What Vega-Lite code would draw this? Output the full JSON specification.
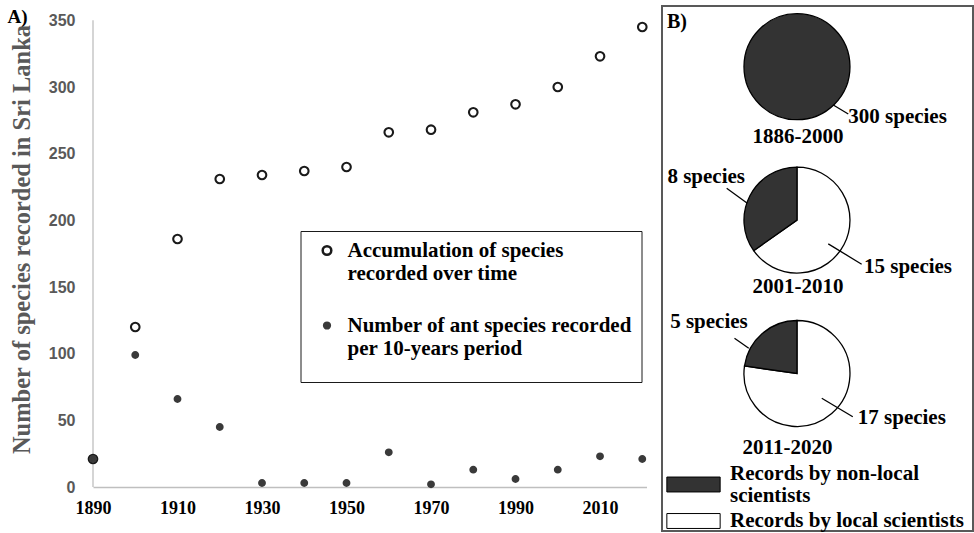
{
  "$schema": "https://vega.github.io/schema/vega-lite/v6.json",
  "autosize": {"type": "pad"},
  "padding": {"left": 7, "top": 5, "right": 1, "bottom": 1},
  "background": "#ffffff",
  "spacing": 10,
  "config": {"view": {"stroke": null}, "font": "Liberation Serif"},
  "resolve": {
    "scale": {"fill": "independent", "stroke": "independent", "size": "independent", "shape": "independent", "x": "independent", "y": "independent"},
    "legend": {"fill": "independent", "stroke": "independent", "size": "independent", "shape": "independent"}
  },
  "hconcat": [
    {
      "width": 553.5,
      "height": 481,
      "layer": [
        {
          "data": {"values": [{}]},
          "mark": {"type": "rule", "color": "#bfbfbf", "strokeWidth": 1.3},
          "encoding": {
            "x": {"datum": 1890, "type": "quantitative", "scale": {"domain": [1890, 2021], "nice": false, "zero": false}},
            "y": {"datum": 0, "type": "quantitative", "scale": {"domain": [0, 360.75], "nice": false}},
            "y2": {"datum": 350}
          }
        },
        {
          "data": {"values": [
            {"year": 1890, "series": "acc", "count": 21},
            {"year": 1900, "series": "acc", "count": 120},
            {"year": 1910, "series": "acc", "count": 186},
            {"year": 1920, "series": "acc", "count": 231},
            {"year": 1930, "series": "acc", "count": 234},
            {"year": 1940, "series": "acc", "count": 237},
            {"year": 1950, "series": "acc", "count": 240},
            {"year": 1960, "series": "acc", "count": 266},
            {"year": 1970, "series": "acc", "count": 268},
            {"year": 1980, "series": "acc", "count": 281},
            {"year": 1990, "series": "acc", "count": 287},
            {"year": 2000, "series": "acc", "count": 300},
            {"year": 2010, "series": "acc", "count": 323},
            {"year": 2020, "series": "acc", "count": 345},
            {"year": 1890, "series": "num", "count": 21},
            {"year": 1900, "series": "num", "count": 99},
            {"year": 1910, "series": "num", "count": 66},
            {"year": 1920, "series": "num", "count": 45},
            {"year": 1930, "series": "num", "count": 3},
            {"year": 1940, "series": "num", "count": 3},
            {"year": 1950, "series": "num", "count": 3},
            {"year": 1960, "series": "num", "count": 26},
            {"year": 1970, "series": "num", "count": 2},
            {"year": 1980, "series": "num", "count": 13},
            {"year": 1990, "series": "num", "count": 6},
            {"year": 2000, "series": "num", "count": 13},
            {"year": 2010, "series": "num", "count": 23},
            {"year": 2020, "series": "num", "count": 21}
          ]},
          "mark": {"type": "point", "shape": "circle", "filled": true, "strokeWidth": 2.1, "opacity": 1},
          "encoding": {
            "x": {
              "field": "year", "type": "quantitative",
              "scale": {"domain": [1890, 2021], "nice": false, "zero": false},
              "axis": {
                "title": null, "values": [1890, 1910, 1930, 1950, 1970, 1990, 2010], "format": "d",
                "grid": false, "ticks": false, "domainColor": "#bfbfbf", "domainWidth": 1.3,
                "labelFont": "Liberation Serif", "labelFontWeight": "bold", "labelFontSize": 18,
                "labelColor": "#000000", "labelPadding": 12, "labelFlush": false, "labelOverlap": false
              }
            },
            "y": {
              "field": "count", "type": "quantitative",
              "scale": {"domain": [0, 360.75], "nice": false},
              "axis": {
                "title": "Number of species recorded in Sri Lanka",
                "values": [0, 50, 100, 150, 200, 250, 300, 350],
                "grid": false, "ticks": false, "domain": false,
                "labelFont": "Liberation Sans", "labelFontWeight": "bold", "labelFontSize": 16,
                "labelColor": "#595959", "labelPadding": 18,
                "titleFont": "Liberation Serif", "titleFontSize": 24.5, "titleFontWeight": "bold",
                "titleColor": "#595959", "titlePadding": 14, "titleY": 233
              }
            },
            "fill": {
              "field": "series", "type": "nominal",
              "scale": {"domain": ["acc", "num"], "range": ["#ffffff", "#3a3a3a"]},
              "legend": {
                "orient": "none", "legendX": 207.5, "legendY": 225, "title": " ",
                "titleOrient": "bottom", "titleFontSize": 10, "titlePadding": 4,
                "padding": 9, "strokeColor": "#1a1a1a",
                "labelFont": "Liberation Serif", "labelFontSize": 21, "labelFontWeight": "bold",
                "labelColor": "#000000", "labelLimit": 500, "labelOffset": 10, "rowPadding": 30,
                "symbolOffset": 7,
                "symbolStrokeWidth": 2.5,
                "labelExpr": "datum.value == 'acc' ? ['Accumulation of species', 'recorded over time'] : ['Number of ant species recorded', 'per 10-years period']",
                "encode": {
                  "labels": {"update": {"lineHeight": {"value": 23}}},
                  "symbols": {"update": {"size": {"signal": "datum.value == 'acc' ? 117 : 75"}}}
                }
              }
            },
            "stroke": {
              "field": "series", "type": "nominal",
              "scale": {"domain": ["acc", "num"], "range": ["#1a1a1a", "#3a3a3a"]}
            },
            "size": {
              "field": "series", "type": "ordinal",
              "scale": {"domain": ["acc", "num"], "range": [74, 33]}
            }
          }
        },
        {
          "data": {"values": [{}]},
          "mark": {"type": "text", "text": "A)", "align": "left", "baseline": "middle", "dx": -85.5, "dy": -3, "font": "Liberation Serif", "fontSize": 19, "fontWeight": "bold", "color": "#000000"},
          "encoding": {
            "x": {"datum": 1890, "type": "quantitative", "scale": {"domain": [1890, 2021], "nice": false, "zero": false}},
            "y": {"datum": 350, "type": "quantitative", "scale": {"domain": [0, 360.75], "nice": false}}
          }
        }
      ]
    },
    {
      "width": 311,
      "height": 525,
      "view": {"stroke": "#595959", "strokeWidth": 2},
      "data": {"values": [
        {"period": "1886-2000", "source": "non-local", "n": 300},
        {"period": "2001-2010", "source": "local", "n": 15},
        {"period": "2001-2010", "source": "non-local", "n": 8},
        {"period": "2011-2020", "source": "local", "n": 17},
        {"period": "2011-2020", "source": "non-local", "n": 5}
      ]},
      "transform": [
        {"stack": "n", "groupby": ["period"], "sort": [{"field": "source", "order": "ascending"}], "offset": "normalize", "as": ["t0", "t1"]}
      ],
      "encoding": {
        "x": {"datum": "pie", "type": "nominal", "scale": {"type": "point", "padding": 0.5, "align": 0.434}, "axis": null},
        "y": {"field": "period", "type": "nominal", "scale": {"type": "point", "domain": ["1886-2000", "2001-2010", "2011-2020"], "range": [60.7, 367.5], "padding": 0}, "axis": null}
      },
      "layer": [
        {
          "mark": {"type": "arc", "radius": 53, "strokeWidth": 1.3},
          "encoding": {
            "theta": {"field": "t0", "type": "quantitative", "scale": {"domain": [0, 1], "range": [0, 6.283185307179586]}},
            "theta2": {"field": "t1"},
            "fill": {
              "field": "source", "type": "nominal",
              "scale": {"domain": ["non-local", "local"], "range": ["#333333", "#ffffff"]},
              "legend": {
                "orient": "none", "legendX": 4, "legendY": 451, "title": null, "padding": 0,
                "values": ["non-local"],
                "symbolType": "M-1,-0.28H1V0.28H-1Z", "symbolSize": 2841,
                "symbolStrokeColor": "#000000", "symbolStrokeWidth": 1,
                "labelFont": "Liberation Serif", "labelFontSize": 21, "labelFontWeight": "bold",
                "labelColor": "#000000", "labelLimit": 400, "labelOffset": 9,
                "labelExpr": "['Records by non-local', 'scientists']",
                "encode": {"labels": {"update": {"lineHeight": {"value": 22}, "dy": {"value": -11}}}}
              }
            },
            "stroke": {
              "field": "source", "type": "nominal",
              "scale": {"domain": ["local", "non-local"], "range": ["#000000", "#000000"]},
              "legend": {
                "orient": "none", "legendX": 4, "legendY": 487.5, "title": null, "padding": 0,
                "values": ["local"],
                "symbolType": "M-1,-0.28H1V0.28H-1Z", "symbolSize": 2841,
                "symbolFillColor": "#ffffff", "symbolStrokeWidth": 1,
                "labelFont": "Liberation Serif", "labelFontSize": 21, "labelFontWeight": "bold",
                "labelColor": "#000000", "labelLimit": 400, "labelOffset": 9,
                "labelExpr": "'Records by local scientists'",
                "encode": {"symbols": {"update": {"fill": {"value": "#ffffff"}, "stroke": {"value": "#000000"}}}}
              }
            }
          }
        },
        {
          "mark": {"type": "point", "filled": false, "stroke": "#000000", "strokeWidth": 1.3, "size": 40000, "opacity": 1},
          "encoding": {
            "shape": {
              "field": "n", "type": "nominal",
              "scale": {
                "domain": [300, 8, 15, 5, 17],
                "range": [
                  "M0.363,0.383L0.513,0.473",
                  "M-0.497,-0.169L-0.703,-0.319",
                  "M0.313,0.238L0.647,0.441",
                  "M-0.482,-0.252L-0.625,-0.352",
                  "M0.248,0.248L0.558,0.432"
                ]
              },
              "legend": null
            }
          }
        },
        {
          "transform": [{"filter": "datum.n == 300"}],
          "mark": {"type": "text", "text": {"expr": "datum.n + ' species'"}, "align": "left", "baseline": "middle", "dx": 51.3, "dy": 50, "font": "Liberation Serif", "fontSize": 21, "fontWeight": "bold", "color": "#000000"}
        },
        {
          "transform": [{"filter": "datum.period == '2001-2010' && datum.source == 'non-local'"}],
          "mark": {"type": "text", "text": {"expr": "datum.n + ' species'"}, "align": "right", "baseline": "middle", "dx": -52, "dy": -43.5, "font": "Liberation Serif", "fontSize": 21, "fontWeight": "bold", "color": "#000000"}
        },
        {
          "transform": [{"filter": "datum.period == '2001-2010' && datum.source == 'local'"}],
          "mark": {"type": "text", "text": {"expr": "datum.n + ' species'"}, "align": "left", "baseline": "middle", "dx": 67, "dy": 46.5, "font": "Liberation Serif", "fontSize": 21, "fontWeight": "bold", "color": "#000000"}
        },
        {
          "transform": [{"filter": "datum.period == '2011-2020' && datum.source == 'non-local'"}],
          "mark": {"type": "text", "text": {"expr": "datum.n + ' species'"}, "align": "right", "baseline": "middle", "dx": -49.2, "dy": -51.8, "font": "Liberation Serif", "fontSize": 21, "fontWeight": "bold", "color": "#000000"}
        },
        {
          "transform": [{"filter": "datum.period == '2011-2020' && datum.source == 'local'"}],
          "mark": {"type": "text", "text": {"expr": "datum.n + ' species'"}, "align": "left", "baseline": "middle", "dx": 60.8, "dy": 44.8, "font": "Liberation Serif", "fontSize": 21, "fontWeight": "bold", "color": "#000000"}
        },
        {
          "transform": [{"filter": "datum.period == '1886-2000'"}],
          "mark": {"type": "text", "align": "center", "baseline": "middle", "dx": 1, "dy": 70, "font": "Liberation Serif", "fontSize": 21, "fontWeight": "bold", "color": "#000000"},
          "encoding": {"text": {"field": "period"}}
        },
        {
          "transform": [{"filter": "datum.period == '2001-2010' && datum.source == 'non-local'"}],
          "mark": {"type": "text", "align": "center", "baseline": "middle", "dx": 1, "dy": 67, "font": "Liberation Serif", "fontSize": 21, "fontWeight": "bold", "color": "#000000"},
          "encoding": {"text": {"field": "period"}}
        },
        {
          "transform": [{"filter": "datum.period == '2011-2020' && datum.source == 'non-local'"}],
          "mark": {"type": "text", "align": "center", "baseline": "middle", "dx": -9.5, "dy": 74.5, "font": "Liberation Serif", "fontSize": 21, "fontWeight": "bold", "color": "#000000"},
          "encoding": {"text": {"field": "period"}}
        },
        {
          "transform": [{"filter": "datum.n == 300"}],
          "mark": {"type": "text", "text": "B)", "align": "left", "baseline": "middle", "dx": -130, "dy": -45, "font": "Liberation Serif", "fontSize": 20, "fontWeight": "bold", "color": "#000000"}
        }
      ]
    }
  ]
}
